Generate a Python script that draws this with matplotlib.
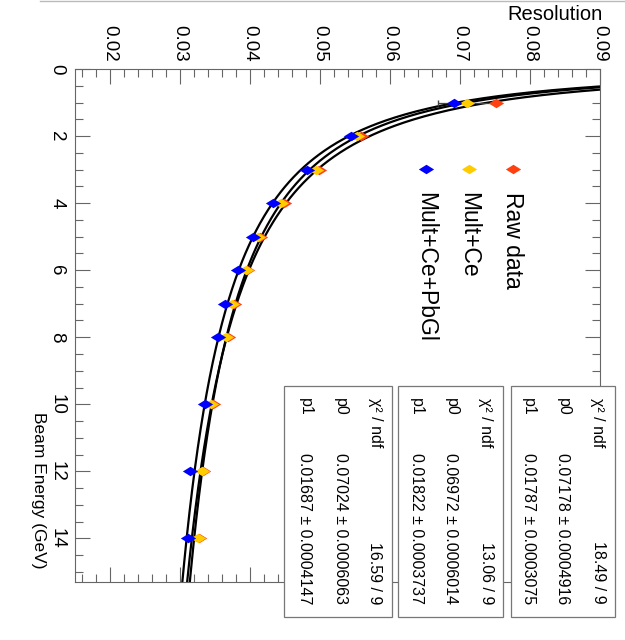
import matplotlib
matplotlib.use("Agg")
import matplotlib.pyplot as plt
import numpy as np
from matplotlib.path import Path
from matplotlib.patches import Rectangle
from matplotlib.lines import Line2D

plt.rcParams['font.family'] = ['Liberation Sans', 'DejaVu Sans']

energy = [1, 2, 3, 4, 5, 6, 7, 8, 10, 12, 14]
res_raw = [0.0751, 0.0558, 0.0498, 0.0448, 0.0415, 0.0396, 0.0377, 0.0368, 0.0347, 0.0333, 0.0327]
res_multce = [0.0710, 0.0553, 0.0494, 0.0445, 0.0412, 0.0394, 0.0374, 0.0366, 0.0345, 0.0331, 0.0326]
res_pbgl = [0.0691, 0.0544, 0.0482, 0.0433, 0.0405, 0.0383, 0.0364, 0.0355, 0.0336, 0.0314, 0.0312]
err_multce = [0.0041, 0.0003, 0.0003, 0.0003, 0.0003, 0.0003, 0.0003, 0.0003, 0.0003, 0.0003, 0.0003]

names = ['Raw data', 'Mult+Ce', 'Mult+Ce+PbGl']
colors = ['#ff4010', '#ffcc00', '#0000ff']

chi2 = ['18.49 / 9', '13.06 / 9', '16.59 / 9']
p0 = ['0.07178 \u00b1 0.0004916', '0.06972 \u00b1 0.0006014', '0.07024 \u00b1 0.0006063']
p1 = ['0.01787 \u00b1 0.0003075', '0.01822 \u00b1 0.0003737', '0.01687 \u00b1 0.0004147']

W, H = 625, 640
fig = plt.figure(figsize=(W / 100, H / 100), dpi=100)

def fx(px):
    return px / W

def fy(py):
    return 1 - py / H

ax = fig.add_axes([fx(75), fy(582), 525 / W, 513 / H])

diamond = Path([(-1, 0), (0, 0.62), (1, 0), (0, -0.62), (-1, 0)],
               [Path.MOVETO, Path.LINETO, Path.LINETO, Path.LINETO, Path.CLOSEPOLY])

E = np.array(energy, dtype=float)
egrid = np.linspace(0.3, 15.3, 500)
all_res = [res_raw, res_multce, res_pbgl]

# fit curves res = a/sqrt(E) + b
for r in all_res:
    a, b = np.polyfit(1 / np.sqrt(E), r, 1)
    ax.plot(a / np.sqrt(egrid) + b, egrid, color='black', lw=1.6, zorder=2)

for i, r in enumerate(all_res):
    if i == 1:
        ax.errorbar(r, energy, xerr=err_multce, fmt='none', ecolor='#444444',
                    elinewidth=0.9, capsize=2, zorder=3)
    ax.plot(r, energy, linestyle='none', marker=diamond, markersize=11,
            color=colors[i], markeredgewidth=0, zorder=4 + i)

ax.set_xlim(0.015, 0.09)
ax.set_ylim(15.3, 0)
xt = np.arange(0.02, 0.0901, 0.01)
ax.set_xticks(xt, labels=['%.2f' % t for t in xt])
ax.set_xticks(np.arange(0.016, 0.0901, 0.002), minor=True)
yt = np.arange(0, 15, 2)
ax.set_yticks(yt, labels=[str(t) for t in yt])
ax.set_yticks(np.arange(0, 15.31, 0.5), minor=True)

ax.tick_params(which='both', direction='in', top=True, bottom=True, left=True, right=True,
               labeltop=True, labelbottom=False, labelleft=True, labelrotation=-90,
               color='#666666', labelsize=13.5, width=0.8)
ax.tick_params(which='major', length=11)
ax.tick_params(which='minor', length=5.5)
ax.tick_params(axis='x', pad=5)
ax.tick_params(axis='y', pad=7)
for t in ax.get_yticklabels():
    t.set_va('center')
for s in ax.spines.values():
    s.set_color('#666666')
    s.set_linewidth(0.8)

fig.text(fx(603), fy(15), 'Resolution', ha='right', va='center', fontsize=14.5)
fig.text(fx(38), fy(568), 'Beam Energy (GeV)', rotation=-90, ha='center', va='bottom', fontsize=12.5)

# legend
leg_x = [513, 469, 426]
for i in range(3):
    fig.add_artist(Line2D([fx(leg_x[i])], [fy(169)], linestyle='none', marker=diamond,
                          markersize=11, color=colors[i], markeredgewidth=0))
    fig.text(fx(leg_x[i]), fy(192), names[i], rotation=-90, ha='center', va='top', fontsize=16.5)

# stat boxes
box_left = [511, 398, 284]
box_right = [615, 503, 392]
for k in range(3):
    fig.add_artist(Rectangle((fx(box_left[k]), fy(617)), (box_right[k] - box_left[k]) / W, 231 / H,
                             transform=fig.transFigure, facecolor='white', edgecolor='#777777',
                             lw=0.9, zorder=10))
    rows = [('\u03c7\u00b2 / ndf', chi2[k]), ('p0', p0[k]), ('p1', p1[k])]
    for j, (lab, val) in enumerate(rows):
        cx = fx(box_right[k] - 17 - 35 * j)
        fig.text(cx, fy(398), lab, rotation=-90, ha='center', va='top', fontsize=11.5, zorder=11)
        fig.text(cx, fy(604), val, rotation=-90, ha='center', va='bottom', fontsize=11.5, zorder=11)

fig.add_artist(Line2D([fx(40), 1], [fy(1), fy(1)], color='#bbbbbb', lw=1))

fig.savefig('out.png', dpi=100)
